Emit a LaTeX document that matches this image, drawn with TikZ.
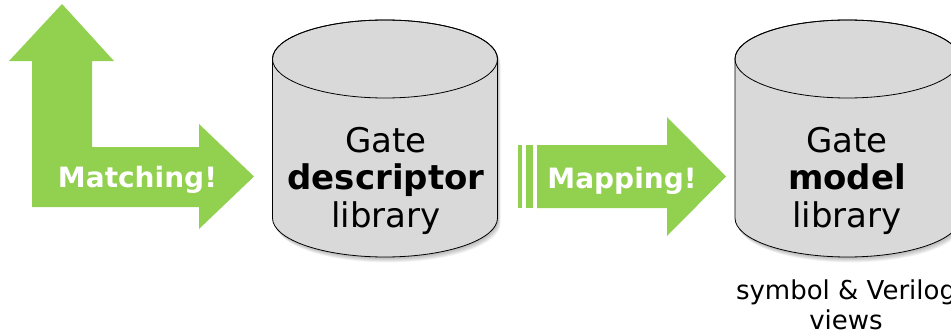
\documentclass[tikz,border=0pt]{standalone}
\usepackage{fontspec}
\setmainfont{DejaVu Sans}

\definecolor{arrowgreen}{HTML}{92D050}
\definecolor{drumgray}{HTML}{D9D9D9}

\tikzset{
  greenarrow/.style={fill=arrowgreen, draw=none},
  arrowlabel/.style={text=white, font=\bfseries\fontsize{28}{32}\selectfont,
    inner sep=0pt, anchor=base},
  drumtext/.style={font=\fontsize{34}{38}\selectfont, inner sep=0pt, anchor=base},
  notetext/.style={font=\fontsize{26}{30}\selectfont, inner sep=0pt, anchor=base},
  drumbody/.style={fill=drumgray, draw=black, line width=0.8pt},
}

% outline of a storage drum centred at x = #1
\newcommand\drumoutline[1]{%
  (#1-112.5,274) -- (#1-112.5,115)
  arc[start angle=180, end angle=360, x radius=112.5, y radius=39]
  -- (#1+112.5,274)
  arc[start angle=0, end angle=180, x radius=112.5, y radius=39] -- cycle}

% drum with soft shadow and visible top face
\newcommand\drawdrum[1]{%
  \foreach \k in {1,...,6}{%
    \fill[black, opacity=0.05] [shift={(0.5*\k,-0.9*\k)}] \drumoutline{#1};
  }
  \path[drumbody] \drumoutline{#1};
  \draw[line width=0.8pt] (#1,274) ellipse[x radius=112.5, y radius=39];
}

\begin{document}
\begin{tikzpicture}[x=1pt, y=1pt]
  \useasboundingbox (0,0) rectangle (951,333);
  \clip (0,0) rectangle (951,333);

  % L-shaped "Matching" arrow
  \fill[greenarrow] (62,329) -- (114,272) -- (92,272) -- (92,186) -- (199,186)
    -- (199,209) -- (254,156.5) -- (199,104) -- (199,126) -- (32,126)
    -- (32,272) -- (9,272) -- cycle;
  \node[arrowlabel] (matching) at (137.5,145.7) {Matching!};

  % striped "Mapping" arrow
  \fill[greenarrow] (518,125) rectangle (522,188);
  \fill[greenarrow] (526,125) rectangle (533,188);
  \fill[greenarrow] (537,125) -- (667,125) -- (667,97) -- (726,156.5)
    -- (667,216) -- (667,188) -- (537,188) -- cycle;
  \node[arrowlabel] (mapping) at (622,144.7) {Mapping!};

  % gate descriptor library
  \drawdrum{385}
  \node[drumtext] (descA) at (386,181) {Gate};
  \node[drumtext] (descB) at (386,144) {\bfseries descriptor};
  \node[drumtext] (descC) at (386,106) {library};

  % gate model library
  \drawdrum{847.5}
  \node[drumtext] (modelA) at (847,181) {Gate};
  \node[drumtext] (modelB) at (847,144) {\bfseries model};
  \node[drumtext] (modelC) at (847,106) {library};

  \node[notetext] (views1) at (846,34) {symbol \& Verilog};
  \node[notetext] (views2) at (846,4) {views};
\end{tikzpicture}
\end{document}
